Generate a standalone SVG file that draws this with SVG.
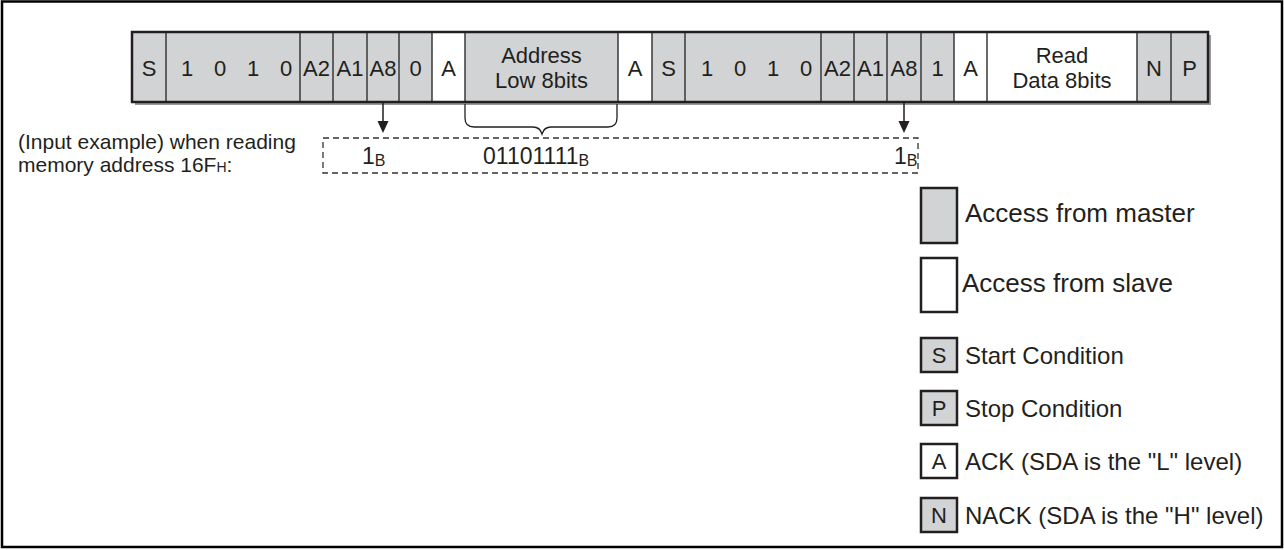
<svg xmlns="http://www.w3.org/2000/svg" width="1284" height="550" viewBox="0 0 1284 550">
<defs>
<style>
text{font-family:"Liberation Sans",Arial,sans-serif;fill:#231f20}
.c{font-size:22px;text-anchor:middle}
.g{fill:#d1d3d4}
.w{fill:#ffffff}
.div{stroke:#3a3a3a;stroke-width:1.5;fill:none}
.lb{stroke:#231f20;stroke-width:2.5}
.lg{font-size:26px}
.ls{font-size:24px}
.ex{font-size:21px}
.num{font-size:23px}
.sub{font-size:16px}
</style>
</defs>
<rect x="2" y="1.5" width="1280" height="545.5" fill="#ffffff" stroke="#000000" stroke-width="2.5"/>
<g id="bar">
<rect x="135" y="35" width="1076" height="70" fill="#9a9a9a"/>
<rect x="132" y="32" width="1076" height="70" class="g"/>
<rect x="432" y="32" width="33" height="70" class="w"/>
<rect x="618" y="32" width="34" height="70" class="w"/>
<rect x="954" y="32" width="183" height="70" class="w"/>
<path class="div" d="M166,32V102M300,32V102M333,32V102M367,32V102M399,32V102M432,32V102M465,32V102M618,32V102M652,32V102M685,32V102M821,32V102M854,32V102M887,32V102M921,32V102M954,32V102M987,32V102M1137,32V102M1171,32V102"/>
<rect x="132" y="32" width="1076" height="70" fill="none" stroke="#231f20" stroke-width="2.5"/>
<text class="c" x="149" y="76">S</text>
<text class="c" x="187" y="76">1</text>
<text class="c" x="220" y="76">0</text>
<text class="c" x="253" y="76">1</text>
<text class="c" x="286" y="76">0</text>
<text class="c" x="316.5" y="76">A2</text>
<text class="c" x="350" y="76">A1</text>
<text class="c" x="383" y="76">A8</text>
<text class="c" x="415.5" y="76">0</text>
<text class="c" x="448.5" y="76">A</text>
<text class="c" x="541.5" y="63">Address</text>
<text class="c" x="541.5" y="88">Low 8bits</text>
<text class="c" x="635" y="76">A</text>
<text class="c" x="668.5" y="76">S</text>
<text class="c" x="707" y="76">1</text>
<text class="c" x="740" y="76">0</text>
<text class="c" x="773" y="76">1</text>
<text class="c" x="806" y="76">0</text>
<text class="c" x="837.5" y="76">A2</text>
<text class="c" x="870.5" y="76">A1</text>
<text class="c" x="904" y="76">A8</text>
<text class="c" x="937.5" y="76">1</text>
<text class="c" x="970.5" y="76">A</text>
<text class="c" x="1062" y="63">Read</text>
<text class="c" x="1062" y="88">Data 8bits</text>
<text class="c" x="1154" y="76">N</text>
<text class="c" x="1189.5" y="76">P</text>
</g>
<g id="connectors">
<path d="M383,102V123M904,102V123" stroke="#231f20" stroke-width="1.5" fill="none"/>
<path d="M377.5,121H388.5L383,133Z M898.5,121H909.5L904,133Z" fill="#231f20"/>
<path d="M465,104V118Q465,127 474,127H533Q540,127 542,134Q544,127 551,127H608Q617,127 617,118V104" stroke="#231f20" stroke-width="1.3" fill="none"/>
</g>
<g id="example">
<text class="ex" x="18" y="149">(Input example) when reading</text>
<text class="ex" x="18" y="172">memory address 16F<tspan font-size="14">H</tspan>:</text>
<rect x="323" y="138" width="595" height="35" fill="none" stroke="#333333" stroke-width="1.3" stroke-dasharray="6 4"/>
<text class="num" x="362" y="164">1<tspan class="sub" dy="2">B</tspan></text>
<text class="num" x="483" y="164">01101111<tspan class="sub" dy="2">B</tspan></text>
<text class="num" x="894" y="164">1<tspan class="sub" dy="2">B</tspan></text>
</g>
<g id="legend-master">
<rect x="921" y="188" width="36" height="55" class="g lb"/>
<text class="lg" x="965" y="222">Access from master</text>
</g>
<g id="legend-slave">
<rect x="921" y="258" width="36" height="54" class="w lb"/>
<text class="lg" x="962" y="292">Access from slave</text>
</g>
<g id="legend-s">
<rect x="921" y="338" width="36" height="34" class="g lb"/>
<text class="c" x="939" y="363">S</text>
<text class="ls" x="965" y="364">Start Condition</text>
</g>
<g id="legend-p">
<rect x="921" y="391" width="36" height="34" class="g lb"/>
<text class="c" x="939" y="416">P</text>
<text class="ls" x="965" y="417">Stop Condition</text>
</g>
<g id="legend-a">
<rect x="921" y="444" width="36" height="34" class="w lb"/>
<text class="c" x="939" y="469">A</text>
<text class="ls" x="965" y="470">ACK (SDA is the "L" level)</text>
</g>
<g id="legend-n">
<rect x="921" y="498" width="36" height="34" class="g lb"/>
<text class="c" x="939" y="523">N</text>
<text class="ls" x="965" y="524">NACK (SDA is the "H" level)</text>
</g>
</svg>
